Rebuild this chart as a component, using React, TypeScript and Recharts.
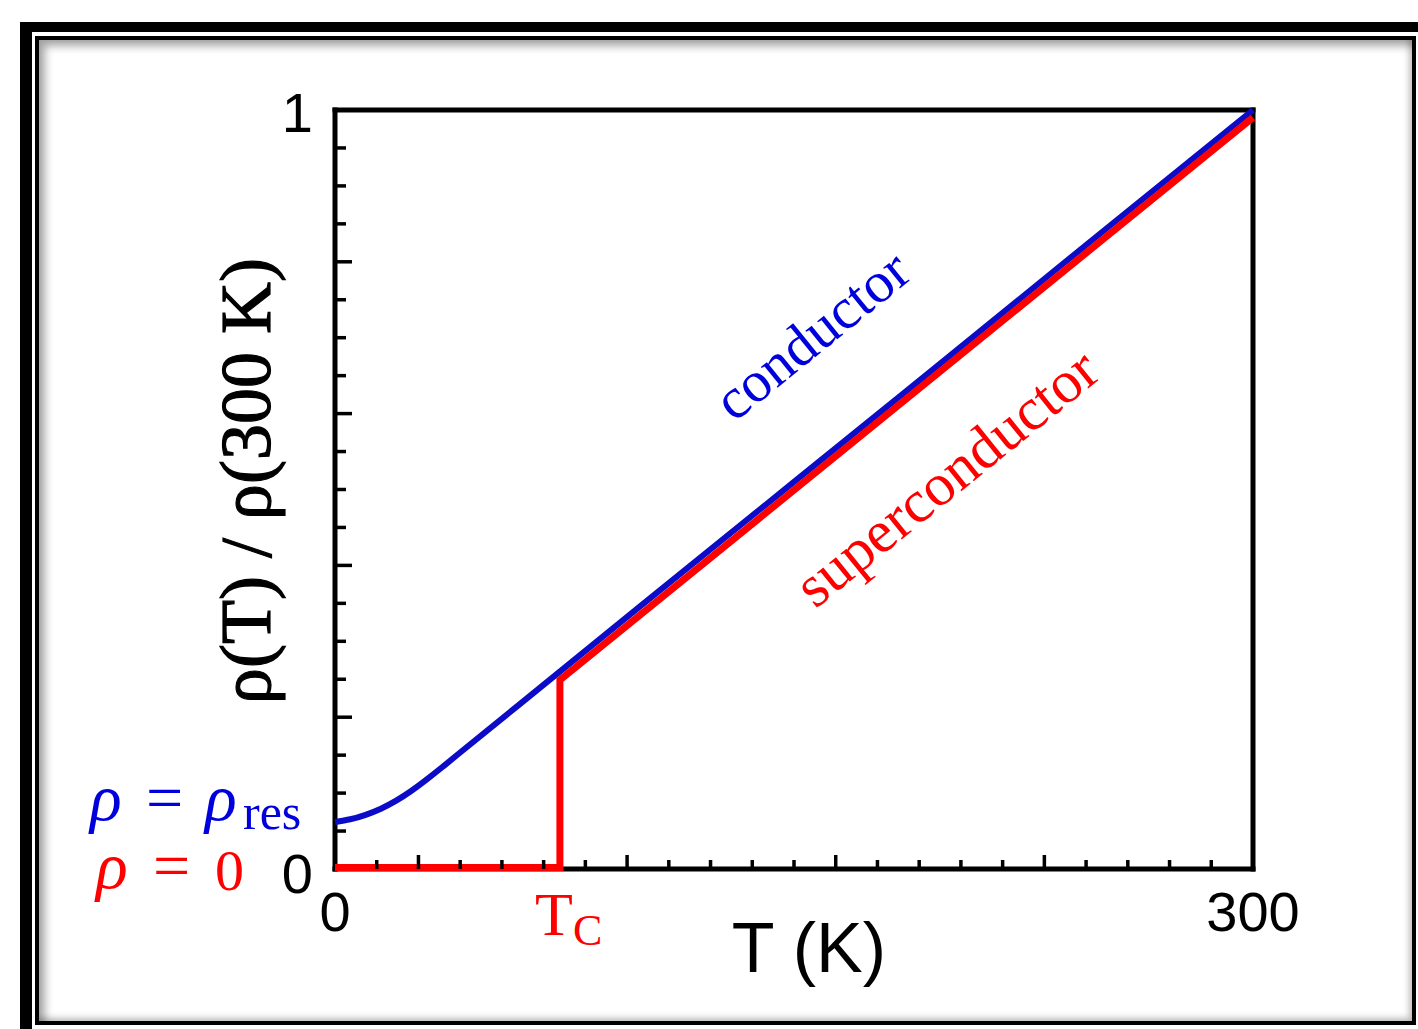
import React from 'react';
import { LineChart, Line, XAxis, YAxis } from 'recharts';

// normal conductor: residual resistivity at T=0, then linear in T
const conductorT = [0, 5, 10, 15, 20, 25, 30, 35, 40, 60, 100, 150, 200, 250, 300];
const conductorRho = [0.062, 0.0655, 0.0714, 0.0795, 0.09, 0.103, 0.118, 0.134, 0.1505, 0.216, 0.347, 0.51, 0.673, 0.837, 1.0];

// superconductor: drops to zero below Tc
const superT = [0, 73.5, 73.5, 300];
const superRho = [0.002, 0.002, 0.249, 0.99];

const xTicks = Array.from({ length: 23 }, (_, i) => (i * 300) / 22);
const xMajor = [2, 7, 12, 17, 22];
const xTickLabels: Record<number, string> = { 0: '0', 22: '300' };

const yTicks = Array.from({ length: 21 }, (_, i) => i * 0.05);
const yTickLabels: Record<number, string> = { 0: '0', 20: '1' };

const conductorData = conductorT.map((T, i) => ({ T, rho: conductorRho[i] }));
const superData = superT.map((T, i) => ({ T, rho: superRho[i] }));

const BLUE = '#0c0cc8';
const RED = '#ff0000';
const SANS = '"Liberation Sans", Arial, sans-serif';
const SERIF = '"Liberation Serif", "Times New Roman", serif';

const xIdx = (v: number) => Math.round((v * 22) / 300);
const yIdx = (v: number) => Math.round(v * 20);

const BottomTick = (props: any) => {
  const { x, y, payload } = props;
  const i = xIdx(payload.value);
  const len = xMajor.includes(i) ? 14 : 9;
  return (
    <g>
      {i > 0 && i < 22 && <line x1={x} y1={y} x2={x} y2={y - len} stroke="#000" strokeWidth={3.5} />}
      {xTickLabels[i] && (
        <text x={x} y={y + 62} textAnchor="middle" fontFamily={SANS} fontSize={56} fill="#000">
          {xTickLabels[i]}
        </text>
      )}
    </g>
  );
};

const TopTick = (props: any) => {
  const { x, y, payload } = props;
  const i = xIdx(payload.value);
  const len = xMajor.includes(i) ? 14 : 9;
  if (i === 0 || i === 22) return <g />;
  return <line x1={x} y1={y} x2={x} y2={y + len} stroke="#000" strokeWidth={3.5} />;
};

const LeftTick = (props: any) => {
  const { x, y, payload } = props;
  const i = yIdx(payload.value);
  const len = i % 4 === 0 ? 17 : 11;
  return (
    <g>
      {i > 0 && i < 20 && <line x1={x} y1={y} x2={x + len} y2={y} stroke="#000" strokeWidth={3.5} />}
      {yTickLabels[i] && (
        <text x={x - 22} y={y + (i === 0 ? 24 : 22)} textAnchor="end" fontFamily={SANS} fontSize={56} fill="#000">
          {yTickLabels[i]}
        </text>
      )}
    </g>
  );
};

const RightTick = (props: any) => {
  const { x, y, payload } = props;
  const i = yIdx(payload.value);
  const len = i % 4 === 0 ? 17 : 11;
  if (i === 0 || i === 20) return <g />;
  return <line x1={x} y1={y} x2={x - len} y2={y} stroke="#000" strokeWidth={3.5} />;
};

const axisLine = { stroke: '#000', strokeWidth: 5, strokeLinecap: 'square' as const };

export default function App() {
  return (
    <div style={{ position: 'absolute', left: 0, top: 0, width: 1418, height: 1029, overflow: 'hidden', background: '#fff' }}>
      {/* photo frame */}
      <div style={{ position: 'absolute', left: 20, top: 22, width: 1500, height: 1100, borderLeft: '12px solid #000', borderTop: '10px solid #000' }} />
      <div
        style={{
          position: 'absolute',
          left: 35,
          top: 36,
          width: 1381,
          height: 989,
          boxSizing: 'border-box',
          border: '4px solid #000',
          background: '#fff',
          boxShadow: 'inset 6px 6px 8px rgba(0,0,0,0.35), inset -3px -3px 6px rgba(0,0,0,0.25)',
        }}
      />

      <div style={{ position: 'absolute', left: 0, top: 0 }}>
        <LineChart width={1418} height={1029} margin={{ top: 109, right: 164, bottom: 159, left: 334 }}>
          <Line
            data={conductorData}
            dataKey="rho"
            type="natural"
            stroke={BLUE}
            strokeWidth={6}
            dot={false}
            isAnimationActive={false}
            zIndex={600}
          />
          <Line
            data={superData}
            dataKey="rho"
            type="linear"
            stroke={RED}
            strokeWidth={7}
            dot={false}
            isAnimationActive={false}
            zIndex={600}
          />
          <XAxis
            dataKey="T"
            type="number"
            domain={[0, 300]}
            ticks={xTicks}
            interval={0}
            height={1}
            tickSize={0}
            tickMargin={0}
            axisLine={axisLine}
            tickLine={false}
            tick={BottomTick}
          />
          <XAxis
            xAxisId="top"
            orientation="top"
            dataKey="T"
            type="number"
            domain={[0, 300]}
            ticks={xTicks}
            interval={0}
            height={1}
            tickSize={0}
            tickMargin={0}
            axisLine={axisLine}
            tickLine={false}
            tick={TopTick}
          />
          <YAxis
            type="number"
            domain={[0, 1]}
            ticks={yTicks}
            interval={0}
            width={1}
            tickSize={0}
            tickMargin={0}
            axisLine={axisLine}
            tickLine={false}
            tick={LeftTick}
          />
          <YAxis
            yAxisId="right"
            orientation="right"
            type="number"
            domain={[0, 1]}
            ticks={yTicks}
            interval={0}
            width={1}
            tickSize={0}
            tickMargin={0}
            axisLine={axisLine}
            tickLine={false}
            tick={RightTick}
          />
        </LineChart>
      </div>

      {/* annotations */}
      <svg width={1418} height={1029} style={{ position: 'absolute', left: 0, top: 0, pointerEvents: 'none' }}>
        <text x={809} y={972} textAnchor="middle" fontFamily={SANS} fontSize={70} fill="#000">
          T (K)
        </text>
        <text
          transform="translate(270,481) rotate(-90)"
          textAnchor="middle"
          fontFamily={SERIF}
          fontSize={72}
          fill="#000"
          stroke="#000"
          strokeWidth={1.2}
        >
          ρ(T) / ρ(300 K)
        </text>
        <text transform="translate(824,350) rotate(-39)" textAnchor="middle" fontFamily={SERIF} fontSize={58} fill="#0000dd">
          conductor
        </text>
        <text transform="translate(959,493) rotate(-39)" textAnchor="middle" fontFamily={SERIF} fontSize={60} fill={RED}>
          superconductor
        </text>
        <text x={535} y={935} fontFamily={SERIF} fontSize={62} fill={RED}>
          T
          <tspan fontSize={44} dy={10}>C</tspan>
        </text>

        <g fontFamily={SERIF} fill="#0000dd">
          <text x={90} y={820} fontSize={66} fontStyle="italic">ρ</text>
          <text x={146} y={820} fontSize={66}>=</text>
          <text x={205} y={820} fontSize={66} fontStyle="italic">ρ</text>
          <text x={243} y={829} fontSize={50}>res</text>
        </g>
        <g fontFamily={SERIF} fill={RED}>
          <text x={96} y={888} fontSize={66} fontStyle="italic">ρ</text>
          <text x={153} y={888} fontSize={66}>=</text>
          <text x={215} y={890} fontSize={58}>0</text>
        </g>
      </svg>
    </div>
  );
}
